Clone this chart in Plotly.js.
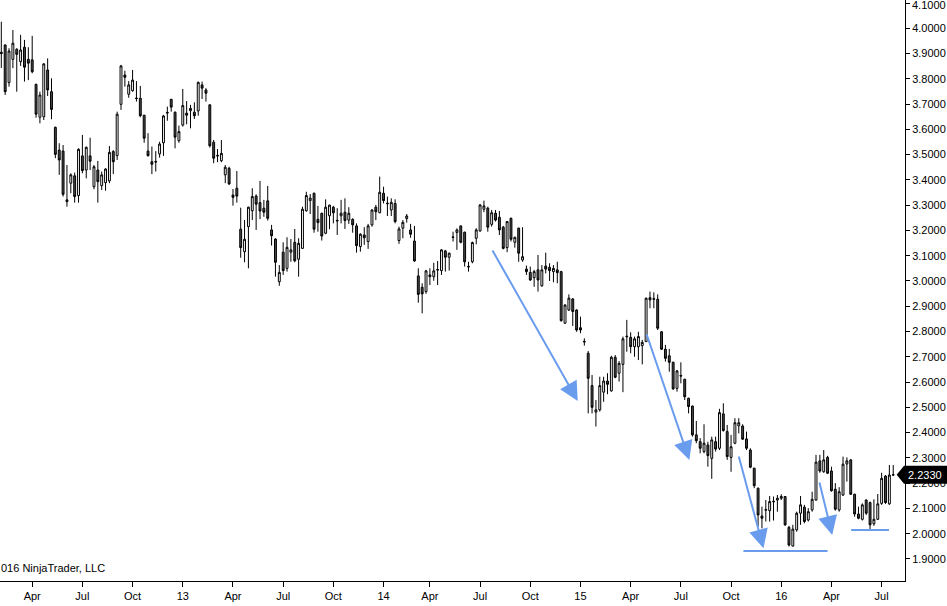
<!DOCTYPE html>
<html>
<head>
<meta charset="utf-8">
<script src="https://cdn.plot.ly/plotly-3.0.1.min.js"></script>
<style>html,body{margin:0;padding:0;background:#fff;}#chart{width:947px;height:606px;}</style>
</head>
<body>
<div id="chart"></div>
<script>
// Weekly bars, Feb 2012 - Jul 2016
const openP = [3.905,3.934,3.785,3.877,3.917,3.868,3.925,3.877,3.875,3.778,
3.648,3.650,3.835,3.749,3.608,3.518,3.514,3.321,3.387,3.416,
3.338,3.495,3.439,3.495,3.373,3.439,3.377,3.389,3.396,3.512,
3.496,3.699,3.815,3.739,3.753,3.724,3.723,3.656,3.514,3.472,
3.473,3.503,3.547,3.667,3.719,3.668,3.555,3.617,3.664,3.674,
3.668,3.673,3.776,3.756,3.697,3.549,3.497,3.476,3.420,3.446,
3.340,3.367,3.205,3.116,3.215,3.278,3.336,3.310,3.288,3.317,
3.202,3.166,2.997,3.114,3.050,3.114,3.153,3.086,3.129,3.278,
3.318,3.347,3.244,3.268,3.189,3.258,3.292,3.240,3.258,3.272,
3.241,3.244,3.218,3.136,3.182,3.156,3.222,3.292,3.270,3.347,
3.308,3.281,3.307,3.160,3.209,3.247,3.202,3.158,3.020,2.975,
2.958,3.024,3.017,3.043,3.041,3.119,3.094,3.172,3.192,3.218,
3.193,3.058,3.076,3.169,3.198,3.284,3.288,3.224,3.268,3.252,
3.213,3.132,3.248,3.153,3.209,3.083,3.047,3.034,3.013,3.044,
2.981,3.059,3.054,3.037,3.044,3.037,2.833,2.885,2.929,2.885,
2.815,2.761,2.714,2.586,2.481,2.490,2.560,2.604,2.565,2.698,
2.635,2.670,2.779,2.777,2.740,2.740,2.744,2.760,2.934,2.930,
2.928,2.799,2.730,2.704,2.678,2.575,2.626,2.611,2.536,2.505,
2.391,2.364,2.325,2.351,2.298,2.364,2.338,2.474,2.404,2.302,
2.358,2.427,2.426,2.375,2.331,2.259,2.180,2.070,2.093,2.091,
2.126,2.133,2.140,2.147,2.025,1.951,2.015,2.081,2.105,2.054,
2.094,2.133,2.288,2.245,2.302,2.248,2.176,2.094,2.153,2.276,
2.292,2.156,2.078,2.057,2.133,2.123,2.039,2.057,2.120,2.228,
2.118,2.232];

const highP = [4.026,3.936,3.921,3.993,3.921,3.974,3.954,3.925,3.970,3.781,
3.749,3.862,3.881,3.802,3.611,3.545,3.538,3.459,3.426,3.429,
3.525,3.578,3.532,3.567,3.459,3.475,3.433,3.446,3.534,3.518,
3.670,3.855,3.832,3.791,3.835,3.791,3.772,3.657,3.585,3.532,
3.514,3.551,3.657,3.690,3.720,3.670,3.615,3.760,3.712,3.697,
3.707,3.789,3.789,3.763,3.699,3.558,3.522,3.558,3.459,3.452,
3.364,3.435,3.290,3.241,3.294,3.367,3.343,3.396,3.321,3.376,
3.222,3.169,3.063,3.153,3.173,3.166,3.206,3.169,3.294,3.353,
3.344,3.350,3.297,3.270,3.323,3.302,3.297,3.288,3.321,3.327,
3.292,3.248,3.228,3.189,3.213,3.226,3.284,3.301,3.413,3.373,
3.334,3.327,3.323,3.215,3.241,3.265,3.226,3.218,3.050,2.991,
3.044,3.050,3.072,3.079,3.126,3.123,3.112,3.195,3.208,3.219,
3.195,3.076,3.156,3.209,3.304,3.318,3.294,3.281,3.281,3.277,
3.218,3.237,3.251,3.175,3.211,3.213,3.061,3.057,3.044,3.103,
3.063,3.112,3.070,3.063,3.076,3.040,2.908,2.947,2.932,2.888,
2.859,2.773,2.723,2.628,2.529,2.621,2.621,2.635,2.704,2.707,
2.683,2.780,2.846,2.797,2.780,2.799,2.767,2.934,2.958,2.955,
2.947,2.802,2.747,2.731,2.681,2.648,2.678,2.613,2.538,2.507,
2.446,2.378,2.433,2.364,2.384,2.384,2.494,2.516,2.430,2.391,
2.457,2.457,2.433,2.404,2.338,2.261,2.182,2.107,2.133,2.149,
2.147,2.153,2.156,2.149,2.031,2.035,2.087,2.149,2.114,2.101,
2.166,2.312,2.312,2.331,2.308,2.265,2.200,2.184,2.305,2.302,
2.295,2.158,2.107,2.120,2.136,2.127,2.136,2.157,2.241,2.232,
2.272,2.272];

const lowP = [3.843,3.736,3.769,3.842,3.749,3.851,3.789,3.795,3.822,3.646,
3.624,3.637,3.732,3.640,3.486,3.420,3.334,3.294,3.347,3.310,
3.310,3.426,3.406,3.439,3.363,3.310,3.360,3.357,3.387,3.423,
3.479,3.677,3.769,3.725,3.749,3.710,3.648,3.547,3.492,3.423,
3.433,3.488,3.495,3.634,3.670,3.525,3.547,3.611,3.620,3.604,
3.641,3.654,3.720,3.710,3.528,3.466,3.470,3.470,3.387,3.380,
3.298,3.310,3.092,3.074,3.050,3.241,3.202,3.245,3.254,3.239,
3.140,3.017,2.981,3.024,3.037,3.076,3.074,3.017,3.127,3.274,
3.265,3.191,3.195,3.160,3.185,3.205,3.228,3.182,3.228,3.206,
3.226,3.191,3.112,3.116,3.143,3.127,3.215,3.241,3.268,3.307,
3.257,3.257,3.228,3.147,3.169,3.231,3.171,3.076,2.914,2.872,
2.949,2.984,3.001,2.984,3.024,3.037,3.041,3.156,3.123,3.149,
3.057,3.037,3.070,3.145,3.195,3.272,3.195,3.215,3.235,3.182,
3.125,3.114,3.156,3.132,3.076,3.076,3.024,3.000,2.977,2.958,
2.977,3.030,3.000,2.995,2.991,2.839,2.830,2.881,2.822,2.799,
2.793,2.744,2.476,2.476,2.424,2.483,2.522,2.552,2.562,2.615,
2.602,2.560,2.720,2.714,2.700,2.687,2.670,2.760,2.892,2.892,
2.806,2.727,2.681,2.641,2.569,2.562,2.595,2.529,2.476,2.384,
2.358,2.318,2.318,2.265,2.217,2.325,2.331,2.404,2.292,2.245,
2.354,2.397,2.371,2.331,2.259,2.180,2.028,2.021,2.048,2.048,
2.052,2.087,2.133,2.031,1.949,1.949,2.008,2.035,2.041,2.048,
2.087,2.131,2.241,2.241,2.236,2.166,2.091,2.087,2.149,2.206,
2.153,2.067,2.057,2.052,2.074,2.017,2.031,2.054,2.114,2.118,
2.114,2.228];

const closeP = [3.900,3.749,3.910,3.941,3.897,3.914,3.846,3.862,3.828,3.660,
3.736,3.859,3.756,3.679,3.501,3.479,3.343,3.314,3.420,3.334,
3.521,3.437,3.529,3.474,3.452,3.393,3.420,3.443,3.509,3.472,
3.660,3.851,3.806,3.776,3.795,3.722,3.654,3.565,3.496,3.462,
3.471,3.542,3.653,3.665,3.688,3.569,3.591,3.694,3.656,3.683,
3.654,3.786,3.763,3.743,3.535,3.486,3.495,3.505,3.450,3.384,
3.331,3.336,3.132,3.165,3.292,3.334,3.304,3.277,3.272,3.248,
3.179,3.074,3.034,3.041,3.133,3.123,3.080,3.149,3.284,3.338,
3.328,3.205,3.231,3.178,3.292,3.300,3.270,3.238,3.268,3.239,
3.268,3.222,3.140,3.185,3.171,3.218,3.281,3.274,3.351,3.318,
3.306,3.311,3.235,3.206,3.232,3.257,3.185,3.079,2.947,2.949,
3.040,3.017,3.040,3.045,3.123,3.094,3.110,3.174,3.202,3.153,
3.076,3.056,3.152,3.202,3.301,3.297,3.213,3.270,3.241,3.202,
3.129,3.235,3.165,3.173,3.110,3.096,3.037,3.004,3.037,3.004,
3.044,3.047,3.041,3.050,3.033,2.843,2.905,2.932,2.879,2.806,
2.806,2.759,2.615,2.500,2.490,2.586,2.604,2.591,2.698,2.619,
2.674,2.771,2.781,2.740,2.771,2.780,2.757,2.932,2.925,2.928,
2.813,2.730,2.694,2.678,2.573,2.644,2.624,2.542,2.503,2.391,
2.368,2.338,2.358,2.309,2.371,2.335,2.479,2.408,2.305,2.344,
2.439,2.439,2.374,2.338,2.263,2.190,2.074,2.061,2.095,2.127,
2.128,2.140,2.147,2.035,1.955,2.018,2.081,2.114,2.048,2.087,
2.136,2.283,2.248,2.292,2.239,2.170,2.097,2.166,2.275,2.288,
2.156,2.078,2.061,2.114,2.081,2.035,2.057,2.118,2.219,2.123,
2.232,2.233];

// Bar positions where each month label sits (first bar of the month)
const tickBars = [9,22,35,48,61,74,87,100,112,125,138,151,164,177,190,203,216,229];
const tickLabels = ['Apr','Jul','Oct','13','Apr','Jul','Oct','14','Apr','Jul','Oct','15','Apr','Jul','Oct','16','Apr','Jul'];

const lastPrice = 2.2330;
const topTick = 4.1;

const barIndex = openP.map((_, i) => i + 1);

const trace = {
  type: 'candlestick',
  x: barIndex,
  open: openP, high: highP, low: lowP, close: closeP,
  increasing: {line: {color: '#000000', width: 1}, fillcolor: '#ffffff'},
  decreasing: {line: {color: '#000000', width: 1}, fillcolor: '#4a4a4a'},
  whiskerwidth: 0,
  hoverinfo: 'none',
  showlegend: false
};

const blue = '#6a9cee';
function arrow(x, y, ax, ay) {
  return {x: x, y: y, ax: ax, ay: ay, xref: 'x', yref: 'y', axref: 'x', ayref: 'y',
    text: '', showarrow: true, arrowhead: 2, arrowsize: 1.9, arrowwidth: 2, arrowcolor: blue};
}

const layout = {
  width: 947, height: 606,
  margin: {l: 0, r: 42, t: 0, b: 25, pad: 0},
  paper_bgcolor: '#ffffff', plot_bgcolor: '#ffffff',
  font: {family: 'Liberation Sans, Arial, sans-serif', size: 11, color: '#000'},
  showlegend: false,
  xaxis: {
    range: [0.66, 235.05], rangeslider: {visible: false},
    tickmode: 'array', tickvals: tickBars, ticktext: tickLabels,
    showline: true, linecolor: '#000', linewidth: 1,
    ticks: 'outside', ticklen: 5, tickcolor: '#000', tickwidth: 1,
    showgrid: false, zeroline: false,
    tickfont: {size: 11, color: '#000'}, fixedrange: true
  },
  yaxis: {
    side: 'right', range: [1.8127, 4.1119],
    tick0: 1.9, dtick: 0.1, tickformat: '.4f',
    showline: true, linecolor: '#000', linewidth: 1,
    ticks: 'outside', ticklen: 4, tickcolor: '#000', tickwidth: 1,
    showgrid: false, zeroline: false,
    tickfont: {size: 11, color: '#000'}, fixedrange: true
  },
  shapes: [
    {type: 'line', xref: 'x', yref: 'y', x0: 193.2, x1: 215.0, y0: 1.931, y1: 1.931, line: {color: blue, width: 2}},
    {type: 'line', xref: 'x', yref: 'y', x0: 221.1, x1: 230.9, y0: 2.015, y1: 2.015, line: {color: blue, width: 2}},
    {type: 'path', xref: 'paper', yref: 'y', fillcolor: '#000', line: {width: 0},
     path: 'M 0.9908 2.233 L 0.9989 2.2686 L 1.0470 2.2686 L 1.0470 2.1974 L 0.9989 2.1974 Z'}
  ],
  annotations: [
    arrow(150.3, 2.525, 128.0, 3.1265),
    arrow(179.2, 2.2915, 168.0, 2.795),
    arrow(198.4, 1.942, 191.9, 2.311),
    arrow(216.2, 1.995, 212.8, 2.2085),
    {xref: 'paper', yref: 'y', x: 1.0226, y: lastPrice, text: lastPrice.toFixed(4), showarrow: false,
     font: {size: 11, color: '#ffffff'}, xanchor: 'center', yanchor: 'middle'},
    {xref: 'paper', yref: 'paper', x: 1, xshift: 7, y: 1, yshift: 1, borderpad: 0, borderwidth: 0,
     text: topTick.toFixed(4), showarrow: false,
     font: {size: 11, color: '#000'}, xanchor: 'left', yanchor: 'top'},
    {xref: 'paper', yref: 'y', x: 0, y: 1.864, xshift: -1, text: '016 NinjaTrader, LLC', showarrow: false,
     font: {size: 11, color: '#000'}, xanchor: 'left', yanchor: 'middle'}
  ]
};

Plotly.newPlot('chart', [trace], layout, {displayModeBar: false, staticPlot: true});
</script>
</body>
</html>
